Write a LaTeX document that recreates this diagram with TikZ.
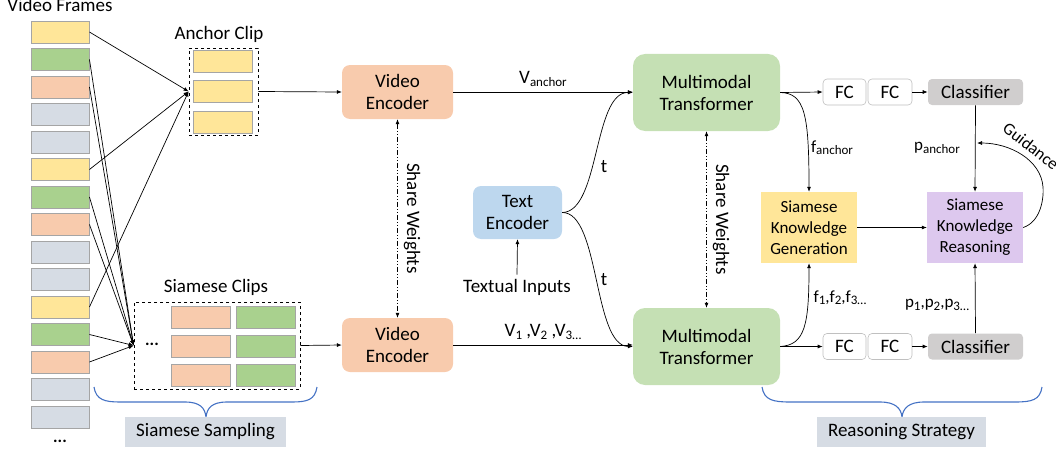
\documentclass[tikz,border=0pt]{standalone}
\usepackage{fontspec}
\setmainfont{Carlito}
\usetikzlibrary{arrows.meta,positioning}
\definecolor{cyel}{HTML}{FFE699}
\definecolor{cgrn}{HTML}{A9D18E}
\definecolor{corg}{HTML}{F8CBAD}
\definecolor{cgry}{HTML}{D6DCE4}
\definecolor{cbrd}{HTML}{A5A5A5}
\definecolor{cmt}{HTML}{C5E0B4}
\definecolor{cte}{HTML}{BDD7EE}
\definecolor{cskr}{HTML}{DDC8EE}
\definecolor{ccls}{HTML}{D0CECE}
\definecolor{cblu}{HTML}{4472C4}
\newcommand\sbs[1]{\raisebox{-0.3ex}{\fontsize{13}{13}\selectfont #1}}
\tikzset{
  frm/.style={draw=cbrd, line width=0.9pt, minimum width=58pt, minimum height=22pt, inner sep=0pt},
  dbox/.style={draw, dashed, line width=0.8pt, inner sep=0pt},
  rbox/.style={rounded corners=8pt, inner sep=0pt, align=center, font=\fontsize{19}{22}\selectfont},
  sbox/.style={inner sep=0pt, align=center, font=\fontsize{17}{21}\selectfont, minimum width=96pt, minimum height=71pt},
  fcbox/.style={draw=cbrd!70, line width=0.6pt, fill=white, rounded corners=4pt, minimum height=26pt, inner sep=0pt, font=\fontsize{19}{22}\selectfont},
  lbl/.style={font=\fontsize{19}{22}\selectfont, inner sep=0pt},
  arr/.style={-{Latex[length=5pt,width=4pt]}, line width=0.7pt},
  shw/.style={{Latex[length=5pt,width=4pt]}-{Latex[length=5pt,width=4pt]}, line width=0.7pt, dash pattern=on 5pt off 2pt on 1pt off 2pt on 1pt off 2pt},
  brc/.style={draw=cblu, line width=1.1pt},
}
\begin{document}
\begin{tikzpicture}[x=1pt,y=-1pt]
\useasboundingbox (0,0) rectangle (1056,452);
% video frames
\node[lbl] (vf) at (60,5) {Video Frames};
\foreach \i/\c in {1/cyel,2/cgrn,3/corg,4/cgry,5/cgry,6/cyel,7/cgrn,8/corg,9/cgry,10/cgry,11/cyel,12/cgrn,13/corg,14/cgry,15/cgry}{
  \node[frm, fill=\c] (fr\i) at (60,{32+27.5*(\i-1)}) {};
}
\node[lbl, font=\bfseries\fontsize{17}{17}\selectfont] (vdots) at (60,441) {...};
% anchor clip
\node[dbox, minimum width=69pt, minimum height=87pt] (anc) at (223.5,91.5) {};
\node[lbl] (anclbl) at (219,34) {Anchor Clip};
\node[frm, fill=cyel, minimum width=59pt] (a1) at (222.5,61) {};
\node[frm, fill=cyel, minimum width=59pt] (a2) at (222.5,91) {};
\node[frm, fill=cyel, minimum width=59pt] (a3) at (222.5,122) {};
% siamese clips
\node[dbox, minimum width=166pt, minimum height=87pt] (sia) at (217,345.5) {};
\node[lbl] (sialbl) at (216,287) {Siamese Clips};
\foreach \j/\y in {1/317,2/346,3/375}{
  \node[frm, fill=corg, minimum width=59pt] (so\j) at (200.5,\y) {};
  \node[frm, fill=cgrn, minimum width=59pt] (sg\j) at (265.5,\y) {};
}
\node[lbl, font=\bfseries\fontsize{17}{17}\selectfont] (sdots) at (152,344) {...};
% sampling arrows
\foreach \i in {1,6,11}{ \draw[arr] (fr\i.east) -- (anc.west); }
\foreach \i in {2,3,7,8,12,13}{ \draw[arr] (fr\i.east) -- (sia.west); }
% braces
\draw[brc] (94,387) .. controls (96,400) and (105,402) .. (120,402) -- (185,402) .. controls (200,402) and (205,408) .. (206,417) .. controls (207,408) and (212,402) .. (227,402) -- (292,402) .. controls (307,402) and (315,400) .. (317,387);
\node[fill=cgry, minimum width=161pt, minimum height=30pt, inner sep=0pt, font=\fontsize{19}{22}\selectfont] (ss) at (205.5,432) {Siamese Sampling};
\draw[brc] (762,387) .. controls (764,400) and (773,402) .. (790,402) -- (880,402) .. controls (895,402) and (901,408) .. (902,417) .. controls (903,408) and (909,402) .. (924,402) -- (1015,402) .. controls (1032,402) and (1040,400) .. (1042,387);
\node[fill=cgry, minimum width=169pt, minimum height=30pt, inner sep=0pt, font=\fontsize{19}{22}\selectfont] (rs) at (901.5,432) {Reasoning Strategy};
% video encoders
\node[rbox, fill=corg, minimum width=111pt, minimum height=54pt] (ve1) at (397.5,92) {Video\\Encoder};
\node[rbox, fill=corg, minimum width=111pt, minimum height=54pt] (ve2) at (397.5,345) {Video\\Encoder};
\draw[arr] (anc.east) -- (ve1.west);
\draw[arr] (sia.east) -- (ve2.west);
\draw[shw] (ve1.south) -- node[lbl, rotate=-90, right=6pt, anchor=south] (sw1) {Share Weights} (ve2.north);
% text encoder
\node[rbox, fill=cte, minimum width=89pt, minimum height=53pt] (te) at (517.5,212.5) {Text\\Encoder};
\node[lbl] (ti) at (517,287) {Textual Inputs};
\draw[arr] (ti.north) ++(0,-4) coordinate (tis) -- (te.south);
% multimodal transformers
\node[rbox, rounded corners=12pt, fill=cmt, minimum width=147pt, minimum height=77pt] (mt1) at (706.5,92.5) {Multimodal\\Transformer};
\node[rbox, rounded corners=12pt, fill=cmt, minimum width=147pt, minimum height=77pt] (mt2) at (706.5,346.5) {Multimodal\\Transformer};
\draw[arr] (ve1.east) -- node[lbl, above=5pt] (va) {V\sbs{anchor}} (ve1.east -| mt1.west);
\draw[arr] (ve2.east) -- node[lbl, above=5pt] (vn) {V\sbs{1} ,V\sbs{2} ,V\sbs{3…}} (ve2.east -| mt2.west);
\draw[arr] (te.east) .. controls (600,212) and (593,92) .. (mt1.west);
\draw[arr] (te.east) .. controls (600,212) and (593,346) .. (mt2.west);
\node[lbl] (t1) at (604,167) {t};
\node[lbl] (t2) at (604,280) {t};
\draw[shw] (mt1.south) -- node[lbl, rotate=-90, right=6pt, anchor=south] (sw2) {Share Weights} (mt2.north);
% heads
\node[fcbox, minimum width=43pt] (fc1a) at (844.5,92) {FC};
\node[fcbox, minimum width=44pt] (fc1b) at (890,92) {FC};
\node[fcbox, draw=none, fill=ccls, minimum width=95pt] (cl1) at (975.5,92) {Classifier};
\node[fcbox, minimum width=43pt] (fc2a) at (844.5,346.5) {FC};
\node[fcbox, minimum width=44pt] (fc2b) at (890,346.5) {FC};
\node[fcbox, draw=none, fill=ccls, minimum width=95pt] (cl2) at (975.5,346.5) {Classifier};
\draw[arr] (mt1.east) -- (fc1a.west);
\draw[arr] (fc1b.east) -- (cl1.west);
\draw[arr] (mt2.east) -- (fc2a.west);
\draw[arr] (fc2b.east) -- (cl2.west);
% siamese knowledge
\node[sbox, fill=cyel] (skg) at (809,227.5) {Siamese\\Knowledge\\Generation};
\node[sbox, fill=cskr] (skr) at (975,227.5) {Siamese\\Knowledge\\Reasoning};
\draw[arr] (skg.east) -- (skr.west);
\draw[arr] (mt1.east) .. controls (805,93) and (809,115) .. (skg.north);
\draw[arr] (mt2.east) .. controls (805,345) and (809,325) .. (skg.south);
\node[lbl, font=\fontsize{17}{20}\selectfont] (fa) at (832,148) {f\sbs{anchor}};
\node[lbl, font=\fontsize{17}{20}\selectfont] (fn) at (840,298) {f\sbs{1},f\sbs{2},f\sbs{3…}};
\draw[arr] (cl1.south) -- (skr.north);
\draw[arr] (cl2.north) -- (skr.south);
\node[lbl, font=\fontsize{17}{20}\selectfont] (pa) at (937,148) {p\sbs{anchor}};
\node[lbl, font=\fontsize{17}{20}\selectfont] (pn) at (937,305) {p\sbs{1},p\sbs{2},p\sbs{3…}};
\coordinate (gd) at (977,143);
\coordinate (gm) at (1043,187);
\draw[arr] (skr.east) .. controls (1040,222) and (1044,200) .. (gm) .. controls (1041,160) and (1010,143) .. (gd);
\node[lbl, font=\fontsize{17}{20}\selectfont, rotate=-38] (gl) at (1031,146) {Guidance};
\end{tikzpicture}
\end{document}
